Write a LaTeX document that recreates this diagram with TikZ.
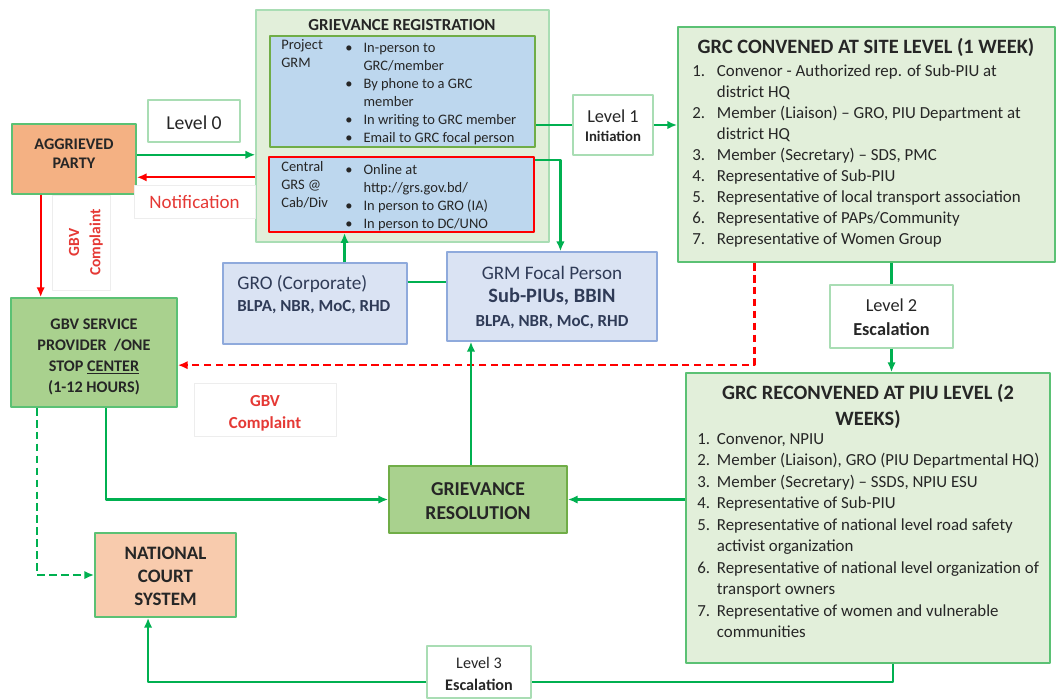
\documentclass[tikz,border=0pt]{standalone}
\usepackage{fontspec}
\setmainfont{Carlito}
\usetikzlibrary{fit,arrows.meta}
\definecolor{lnGreen}{HTML}{00B050}
\definecolor{bxGreen}{HTML}{5BC174}
\definecolor{lvGreen}{HTML}{A9DDB4}
\definecolor{paleGreen}{HTML}{E2EFDA}
\definecolor{midGreen}{HTML}{A9D18E}
\definecolor{edgeGreen}{HTML}{70AD47}
\definecolor{orangeA}{HTML}{F4B183}
\definecolor{orangeB}{HTML}{F8CBAD}
\definecolor{blueA}{HTML}{BDD7EE}
\definecolor{blueB}{HTML}{DAE3F3}
\definecolor{blueEdge}{HTML}{8FAADC}
\definecolor{navyTxt}{HTML}{2F3B57}
\definecolor{txt}{HTML}{262626}
\definecolor{redTxt}{HTML}{E53935}
\begin{document}
\begin{tikzpicture}[x=0.025cm,y=-0.025cm,line join=round,>={Latex[length=7pt,width=6pt]},
  box/.style={draw=bxGreen,line width=1.2pt,inner sep=0pt,align=center,text=txt},
  btxt/.style={inner sep=0pt,align=center,text=txt},
  lvl/.style={draw=lvGreen,fill=white,line width=1pt,inner sep=0pt},
  tag/.style={draw=black!7,fill=white,inner sep=0pt},
  flow/.style={draw=lnGreen,line width=1.5pt},
  alarm/.style={draw=red,line width=1.5pt},
  dashes/.style={dash pattern=on 5.5pt off 3pt},
  list/.style={anchor=north west,inner sep=0pt,align=left,text=txt}]
\path[use as bounding box,fill=white](0,0) rectangle (1056,699);

% registration block
\node[draw=lvGreen,fill=paleGreen,line width=1pt,inner sep=0pt,fit={(256,10) (549,242)}] (reg) {};
\node[text=txt,font=\bfseries\fontsize{12}{14}\selectfont] (regT) at (402,25) {GRIEVANCE REGISTRATION};
\node[draw=edgeGreen,fill=blueA,line width=1.5pt,inner sep=0pt,fit={(270,36) (535,147)}] (prj) {};
\node[draw=red,fill=blueA,line width=1.5pt,inner sep=0pt,fit={(269,157) (534,232)}] (grs) {};
\node[list,font=\fontsize{10.3}{12.8}\selectfont] (prjL) at (281,39.5) {Project\\GRM};
\node[list,font=\fontsize{10.3}{12.8}\selectfont] (prjB) at (345,39.5) {%
  \begin{tabular}{@{}p{13pt}@{}l@{}}
  \textbullet & In-person to\\
   & GRC/member\\
  \textbullet & By phone to a GRC\\
   & member\\
  \textbullet & In writing to GRC member\\
  \textbullet & Email to GRC focal person
  \end{tabular}};
\node[list,font=\fontsize{10.3}{12.8}\selectfont] (grsL) at (281,161.5) {Central\\GRS @\\Cab/Div};
\node[list,font=\fontsize{10.3}{12.8}\selectfont] (grsB) at (345,161.5) {%
  \begin{tabular}{@{}p{13pt}@{}l@{}}
  \textbullet & Online at\\
   & http://grs.gov.bd/\\
  \textbullet & In person to GRO (IA)\\
  \textbullet & In person to DC/UNO
  \end{tabular}};

% left column
\node[box,fill=orangeA,fit={(12,124) (136,194)},font=\bfseries\fontsize{11.5}{13.5}\selectfont] (agg) {AGGRIEVED\\PARTY};
\node[box,fill=midGreen,fit={(11,298) (177,407)}] (gbv) {};
\node[btxt,font=\bfseries\fontsize{11.5}{15}\selectfont] (gbvT) at ([yshift=-3pt]gbv.center) {GBV SERVICE\\PROVIDER\ \ /ONE\\STOP \underline{CENTER}\\(1-12 HOURS)};
\node[box,fill=orangeB,fit={(95,533) (236,617)}] (court) {};
\node[btxt,font=\bfseries\fontsize{13.5}{16.4}\selectfont] (courtT) at ([yshift=-1pt]court.center) {NATIONAL\\COURT\\SYSTEM};
\node[lvl,fit={(148,100) (240,142)}] (lv0) {};
\node[btxt,font=\fontsize{14}{16}\selectfont] (lv0T) at ([yshift=-1pt]lv0.center) {Level 0};
\node[tag,fit={(134,185) (255,218)}] (notif) {};
\node[btxt,text=redTxt,font=\fontsize{13.5}{16}\selectfont] (notifT) at ([yshift=-0.5pt]notif.center) {Notification};
\node[tag,fit={(52,195) (110,290)}] (gbvA) {};
\node[text=redTxt,rotate=90,align=center,font=\bfseries\fontsize{11}{15}\selectfont] (gbvAT) at ([xshift=3.5pt]gbvA.center) {GBV\\Complaint};
\node[tag,fit={(194,383) (336,436)}] (gbvB) {};
\node[btxt,text=redTxt,font=\bfseries\fontsize{12}{15.5}\selectfont] (gbvBT) at ([yshift=-2.5pt]gbvB.center) {GBV\\Complaint};

% focal persons
\node[draw=blueEdge,fill=blueB,line width=1pt,inner sep=0pt,fit={(223,263) (407,344)}] (gro) {};
\node[anchor=north west,inner sep=0pt,align=left,text=navyTxt,font=\fontsize{13}{15.6}\selectfont] (groT) at ([xshift=10.5pt,yshift=-9pt]gro.north west)
  {{\fontsize{13.7}{15.6}\selectfont GRO (Corporate)}\\{\bfseries\fontsize{12}{15.6}\selectfont BLPA, NBR, MoC, RHD}};
\node[draw=blueEdge,fill=blueB,line width=1pt,inner sep=0pt,fit={(447,252) (657,341)}] (foc) {};
\node[btxt,text=navyTxt,font=\fontsize{13.6}{16.8}\selectfont] (focT) at ([yshift=-0.5pt]foc.center)
  {GRM Focal Person\\{\bfseries\fontsize{14.5}{16.8}\selectfont Sub-PIUs, BBIN}\\{\bfseries\fontsize{12}{16.8}\selectfont BLPA, NBR, MoC, RHD}};
\node[box,draw=edgeGreen,fill=midGreen,fit={(389,466) (567,533)}] (gr) {};
\node[btxt,font=\bfseries\fontsize{14}{17}\selectfont] (grT) at ([yshift=-1pt]gr.center) {GRIEVANCE\\RESOLUTION};

% committees
\node[lvl,fit={(573,95) (653,155)}] (lv1) {};
\node[btxt,font=\fontsize{13}{14}\selectfont] (lv1T) at ([yshift=-0.5pt]lv1.center) {Level 1\\{\bfseries\fontsize{10.5}{14}\selectfont Initiation}};
\node[box,fill=paleGreen,fit={(678,27) (1055,262)}] (site) {};
\node[text=txt,font=\bfseries\fontsize{14.5}{17}\selectfont] (siteT) at (866,47) {GRC CONVENED AT SITE LEVEL (1 WEEK)};
\node[list,font=\fontsize{12}{15}\selectfont] (siteL) at (692,61) {%
  \begin{tabular}{@{}p{17.5pt}@{}l@{}}
  1. & Convenor - Authorized rep. of Sub-PIU at\\
     & district HQ\\
  2. & Member (Liaison) -- GRO, PIU Department at\\
     & district HQ\\
  3. & Member (Secretary) -- SDS, PMC\\
  4. & Representative of Sub-PIU\\
  5. & Representative of local transport association\\
  6. & Representative of PAPs/Community\\
  7. & Representative of Women Group
  \end{tabular}};
\node[lvl,fit={(830,285) (953,348)}] (lv2) {};
\node[btxt,font=\fontsize{13}{17}\selectfont] (lv2T) at ([yshift=-0.5pt]lv2.center) {Level 2\\{\bfseries Escalation}};
\node[box,fill=paleGreen,fit={(686,373) (1050,663)}] (rec) {};
\node[text=txt,align=center,font=\bfseries\fontsize{14.5}{18.5}\selectfont] (recT) at (868,406) {GRC RECONVENED AT PIU LEVEL (2\\WEEKS)};
\node[list,font=\fontsize{12}{15.3}\selectfont] (recL) at (697,429) {%
  \begin{tabular}{@{}p{14pt}@{}l@{}}
  1. & Convenor, NPIU\\
  2. & Member (Liaison), GRO (PIU Departmental HQ)\\
  3. & Member (Secretary) -- SSDS, NPIU ESU\\
  4. & Representative of Sub-PIU\\
  5. & Representative of national level road safety\\
     & activist organization\\
  6. & Representative of national level organization of\\
     & transport owners\\
  7. & Representative of women and vulnerable\\
     & communities
  \end{tabular}};
\node[lvl,fit={(427,646) (531,698)}] (lv3) {};
\node[btxt,font=\fontsize{11.5}{16}\selectfont] (lv3T) at ([yshift=-1.5pt]lv3.center) {Level 3\\{\bfseries Escalation}};

% connectors
\coordinate (aIn) at ([yshift=3pt]agg.east);
\coordinate (aOut) at ([yshift=-13pt]agg.east);
\draw[flow,->] (aIn) -- (aIn -| reg.west);
\draw[alarm,->] (aOut -| reg.west) -- (aOut);
\coordinate (aDown) at ([xshift=21pt]agg.south west);
\draw[alarm,->] (aDown) -- (aDown |- gbv.north);
\draw[flow] (lv1.west -| prj.east) -- (lv1.west);
\draw[flow,->] (lv1.east) -- (lv1.east -| site.west);
\coordinate (gTop) at ([yshift=-3pt]grs.north east);
\draw[flow,->] (gTop) -| ([xshift=6pt]foc.north);
\coordinate (gLink) at ([yshift=15pt]gro.east);
\draw[flow] (gLink) -- (gLink -| foc.west);
\coordinate (gUp) at ([xshift=21pt]gro.north);
\draw[flow,->] (gUp) -- (gUp |- grs.south);
\coordinate (sDash) at ([xshift=55pt]site.south west);
\coordinate (bIn) at ([yshift=-9pt]gbv.east);
\draw[alarm,dashes,->] (sDash) |- (bIn);
\draw[flow] (lv2.north |- site.south) -- (lv2.north);
\draw[flow,->] (lv2.south) -- (lv2.south |- rec.north);
\coordinate (bRes) at ([xshift=68pt]gbv.south west);
\draw[flow,->] (bRes) |- (gr.west);
\draw[flow,->] (gr.west -| rec.west) -- (gr.east);
\coordinate (rUp) at ([xshift=-5pt]gr.north);
\draw[flow,->] (rUp) -- (rUp |- foc.south);
\coordinate (bCourt) at ([xshift=19pt]gbv.south west);
\draw[flow,dashes,->] (bCourt) |- (court.west);
\coordinate (rOut) at ([xshift=18pt]rec.south);
\coordinate (l3In) at ([yshift=-7pt]lv3.east);
\coordinate (l3Out) at ([yshift=-7pt]lv3.west);
\draw[flow] (rOut) |- (l3In);
\draw[flow,->] (l3Out) -| ([xshift=-12.4pt]court.south);
\end{tikzpicture}
\end{document}
